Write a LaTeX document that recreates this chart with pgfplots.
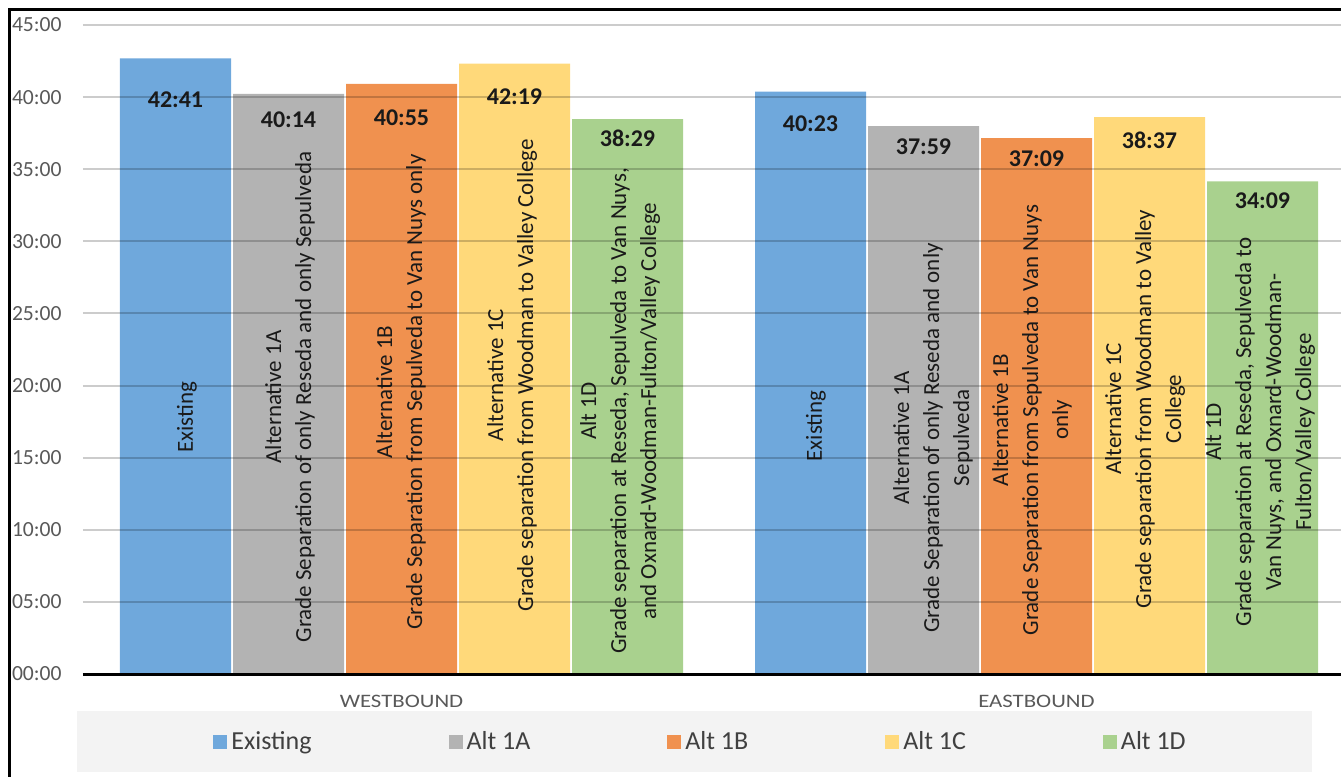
\documentclass[border=0pt]{standalone}
\usepackage{pgfplots}
\pgfplotsset{compat=1.18}
\usepackage{fontspec}
\setmainfont{Carlito}
\usepackage{graphicx}
\definecolor{cExist}{HTML}{6FA8DC}
\definecolor{cA}{HTML}{B3B3B3}
\definecolor{cB}{HTML}{F0914F}
\definecolor{cC}{HTML}{FFD97A}
\definecolor{cD}{HTML}{A9D18E}
\definecolor{tickgray}{HTML}{595959}
\definecolor{legtext}{HTML}{404040}
\definecolor{band}{HTML}{F3F3F3}
\definecolor{labcol}{HTML}{1A1A1A}
\newcommand{\lab}{\fontsize{11.5}{15}\selectfont}
\newcommand{\val}{\fontsize{12}{14}\selectfont\bfseries}
\begin{document}
\begin{tikzpicture}
\clip (0,0) rectangle (670.5pt,-388.5pt);
\begin{scope}[x=0.5pt,y=-0.5pt]
\fill[band] (77,711) rectangle (1312,772);
\end{scope}
\begin{axis}[
  at={(41.5pt,-337pt)}, anchor=south west,
  scale only axis, width=629pt, height=324.5pt,
  xmin=83, xmax=1341, ymin=0, ymax=45,
  axis x line*=bottom, axis y line*=left,
  x axis line style={black, line width=1.5pt, -},
  y axis line style={draw=none},
  xtick=\empty,
  ytick={0,5,...,45},
  yticklabels={00:00,05:00,10:00,15:00,20:00,25:00,30:00,35:00,40:00,45:00},
  major tick length=0pt,
  yticklabel style={font=\fontsize{10.8}{12}\selectfont, text=tickgray, inner sep=0pt, xshift=-10.5pt},
  ymajorgrids, grid style={black, opacity=0.2, line width=1pt},
  axis on top,
  clip=false,
  legend columns=5,
  legend style={at={(axis cs:213,-4.72)}, anchor=west, draw=none, fill=none, inner sep=0pt,
    font=\fontsize{13}{15}\selectfont, text=legtext,
    /tikz/every even column/.append style={column sep=66.5pt}},
  legend image code/.code={\draw[#1,draw=none] (0pt,-3.5pt) rectangle (7pt,3.5pt);},
]
\addplot[ybar, bar width=111, bar shift=0pt, fill=cExist, draw=none] coordinates {(175.5,42.683) (810.5,40.383)};
\addlegendentry{Existing}
\addplot[ybar, bar width=111, bar shift=0pt, fill=cA, draw=none] coordinates {(288.5,40.233) (923.5,37.983)};
\addlegendentry{Alt 1A}
\addplot[ybar, bar width=111, bar shift=0pt, fill=cB, draw=none] coordinates {(401.5,40.917) (1036.5,37.150)};
\addlegendentry{Alt 1B}
\addplot[ybar, bar width=111, bar shift=0pt, fill=cC, draw=none] coordinates {(514.5,42.317) (1149.5,38.617)};
\addlegendentry{Alt 1C}
\addplot[ybar, bar width=111, bar shift=0pt, fill=cD, draw=none] coordinates {(627.5,38.483) (1262.5,34.150)};
\addlegendentry{Alt 1D}

% value labels
\node[font=\val, text=labcol] at (axis cs:175.5,39.80) {42:41};
\node[font=\val, text=labcol] at (axis cs:288.5,38.44) {40:14};
\node[font=\val, text=labcol] at (axis cs:401.5,38.58) {40:55};
\node[font=\val, text=labcol] at (axis cs:514.5,40.01) {42:19};
\node[font=\val, text=labcol] at (axis cs:627.5,37.17) {38:29};
\node[font=\val, text=labcol] at (axis cs:810.5,38.17) {40:23};
\node[font=\val, text=labcol] at (axis cs:923.5,36.58) {37:59};
\node[font=\val, text=labcol] at (axis cs:1036.5,35.71) {37:09};
\node[font=\val, text=labcol] at (axis cs:1149.5,37.03) {38:37};
\node[font=\val, text=labcol] at (axis cs:1262.5,32.83) {34:09};

% rotated labels
\node[rotate=90, align=center, font=\lab, text=labcol] at (axis cs:187,17.82) {Existing};
\node[rotate=90, align=center, font=\lab, text=labcol] at (axis cs:290,19.21) {Alternative 1A\\Grade Separation of only Reseda and only Sepulveda};
\node[rotate=90, align=center, font=\lab, text=labcol] at (axis cs:401,19.56) {Alternative 1B\\Grade Separation from Sepulveda to Van Nuys only};
\node[rotate=90, align=center, font=\lab, text=labcol] at (axis cs:512,20.73) {Alternative 1C\\Grade separation from Woodman to Valley College};
\node[rotate=90, align=center, font=\lab, text=labcol] at (axis cs:620,18.24) {Alt 1D\\Grade separation at Reseda, Sepulveda to Van Nuys,\\and Oxnard-Woodman-Fulton/Valley College};
\node[rotate=90, align=center, font=\lab, text=labcol] at (axis cs:816,17.20) {Existing};
\node[rotate=90, align=center, font=\lab, text=labcol] at (axis cs:933,16.37) {Alternative 1A\\Grade Separation of only Reseda and only\\Sepulveda};
\node[rotate=90, align=center, font=\lab, text=labcol] at (axis cs:1032,17.61) {Alternative 1B\\Grade Separation from Sepulveda to Van Nuys\\only};
\node[rotate=90, align=center, font=\lab, text=labcol] at (axis cs:1145,18.38) {Alternative 1C\\Grade separation from Woodman to Valley\\College};
\node[rotate=90, align=center, font=\lab, text=labcol] at (axis cs:1260,16.78) {Alt 1D\\Grade separation at Reseda, Sepulveda to\\Van Nuys, and Oxnard-Woodman-\\Fulton/Valley College};

% category labels
\node[font=\fontsize{9.5}{11}\selectfont, text=tickgray] at (axis cs:401.5,-1.87) {\scalebox{1.2}[1]{WESTBOUND}};
\node[font=\fontsize{9.5}{11}\selectfont, text=tickgray] at (axis cs:1036.5,-1.87) {\scalebox{1.2}[1]{EASTBOUND}};
\end{axis}
\begin{scope}[x=0.5pt,y=-0.5pt]
\draw[line width=1.5pt] (9.5,9.5) rectangle (1400,800);
\end{scope}
\end{tikzpicture}
\end{document}
